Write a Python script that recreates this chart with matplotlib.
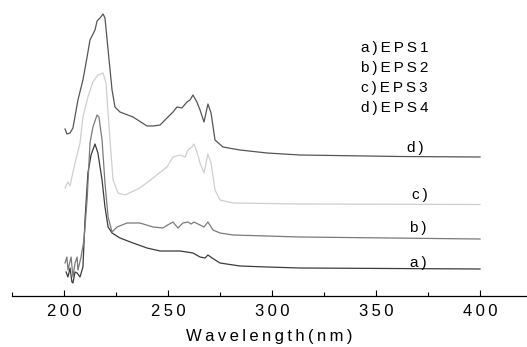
import matplotlib
matplotlib.use("Agg")
import matplotlib.pyplot as plt
from matplotlib.ticker import MultipleLocator

plt.rcParams.update({
    "font.family": ["Liberation Sans", "DejaVu Sans"],
    "font.size": 11,
})

# ── Data (intensity in arbitrary units, curves offset) ──
wl_a = [201.0, 201.9, 202.9, 203.8, 204.3, 205.3, 206.3, 207.7, 209.1, 210.1,
        211.5, 213.0, 214.9, 216.3, 218.3, 219.7, 221.2, 223.1, 226.9, 233.2,
        239.9, 246.2, 255.8, 262.0, 265.4, 267.8, 269.2, 271.2, 275.0, 284.6,
        297.6, 313.5, 400.0]
int_a = [0.24, 0.19, 0.28, 0.14, 0.13, 0.24, 0.23, 0.19, 0.29, 0.76,
         1.23, 1.41, 1.52, 1.43, 1.16, 0.89, 0.69, 0.63, 0.58, 0.53,
         0.48, 0.45, 0.45, 0.43, 0.39, 0.38, 0.41, 0.38, 0.33, 0.30,
         0.29, 0.28, 0.27]

wl_b = [200.5, 201.4, 201.9, 203.4, 204.3, 205.3, 206.3, 206.7, 208.2, 209.6,
        211.1, 212.5, 213.9, 215.9, 216.8, 218.3, 219.7, 221.2, 223.1, 225.5,
        230.3, 236.5, 242.8, 247.6, 249.0, 252.4, 254.8, 257.2, 259.6, 261.1,
        262.5, 265.4, 267.3, 269.2, 271.6, 275.0, 281.3, 313.5, 400.0]
int_b = [0.33, 0.39, 0.26, 0.39, 0.19, 0.33, 0.39, 0.26, 0.39, 0.56,
         0.96, 1.53, 1.69, 1.81, 1.79, 1.56, 1.13, 0.79, 0.64, 0.69,
         0.73, 0.73, 0.69, 0.68, 0.70, 0.74, 0.68, 0.73, 0.74, 0.72,
         0.74, 0.71, 0.69, 0.74, 0.66, 0.63, 0.61, 0.59, 0.57]

wl_c = [200.5, 201.9, 202.9, 203.8, 205.3, 207.7, 209.1, 211.5, 213.9, 216.3,
        218.8, 220.2, 222.1, 223.6, 226.0, 229.3, 236.5, 242.8, 249.5, 252.4,
        255.8, 258.2, 259.6, 261.5, 262.5, 263.9, 265.4, 267.3, 269.2, 270.7,
        272.6, 275.0, 281.3, 313.5, 400.0]
int_c = [1.08, 1.14, 1.10, 1.19, 1.33, 1.53, 1.79, 1.99, 2.14, 2.21,
         2.23, 2.13, 1.56, 1.16, 1.03, 1.01, 1.08, 1.18, 1.29, 1.39,
         1.41, 1.39, 1.46, 1.49, 1.52, 1.44, 1.33, 1.23, 1.42, 1.33,
         1.06, 0.96, 0.93, 0.92, 0.915]

wl_d = [200.5, 201.4, 202.9, 204.3, 206.7, 209.1, 211.1, 212.5, 214.9, 215.9,
        217.3, 218.8, 219.7, 221.2, 223.1, 224.5, 226.9, 233.2, 239.9, 242.8,
        246.2, 249.5, 252.4, 254.3, 256.7, 259.1, 260.6, 262.0, 263.9, 265.4,
        267.3, 269.2, 270.7, 272.6, 276.4, 284.6, 297.6, 313.5, 361.5, 400.0]
int_d = [1.67, 1.62, 1.63, 1.68, 1.96, 2.16, 2.39, 2.56, 2.66, 2.75,
         2.78, 2.82, 2.78, 2.46, 2.06, 1.89, 1.84, 1.79, 1.70, 1.70,
         1.71, 1.78, 1.84, 1.89, 1.88, 1.94, 1.96, 2.01, 1.94, 1.86,
         1.74, 1.92, 1.83, 1.56, 1.49, 1.46, 1.43, 1.41, 1.395, 1.39]

curve_tags = ["a)", "b)", "c)", "d)"]
legend_lines = ["a)EPS1", "b)EPS2", "c)EPS3", "d)EPS4"]
xticks = [200, 250, 300, 350, 400]


def spaced(s):
    return "\u2009".join(s)


fig = plt.figure(figsize=(5.27, 3.47), dpi=100)
ax = fig.add_axes([12 / 527, 51 / 347, 515 / 527, 296 / 347])

ax.plot(wl_a, int_a, color="#3c3c3c", lw=0.9)
ax.plot(wl_b, int_b, color="#7a7a7a", lw=0.9)
ax.plot(wl_c, int_c, color="#cfcfcf", lw=0.9)
ax.plot(wl_d, int_d, color="#555555", lw=0.9)

# curve tags near the right-hand end
tag_pos = [(370.2, 0.33), (370.2, 0.68), (371.2, 1.01), (368.8, 1.48)]
for tag, (x, y) in zip(curve_tags, tag_pos):
    ax.text(x, y, spaced(tag), fontsize=11, ha="center", va="center")

# legend block
for i, s in enumerate(legend_lines):
    ax.text(342.6, 2.48 - i * 0.20, spaced(s), fontsize=11, ha="left", va="center")

ax.set_xlim(175, 422.6)
ax.set_ylim(0, 2.96)
ax.set_xticks(xticks)
ax.set_xticklabels([spaced(str(t)) for t in xticks])
ax.xaxis.set_minor_locator(MultipleLocator(25))
ax.tick_params(axis="x", which="major", direction="in", length=4.5, width=0.8,
               pad=6, labelsize=12)
ax.tick_params(axis="x", which="minor", direction="in", length=3, width=0.8)
ax.set_yticks([])
for side in ["top", "right", "left"]:
    ax.spines[side].set_visible(False)
ax.spines["bottom"].set_linewidth(0.9)
ax.set_xlabel(spaced("Wavelength(nm)"), fontsize=12, labelpad=7)

fig.savefig("out.png", dpi=100)
